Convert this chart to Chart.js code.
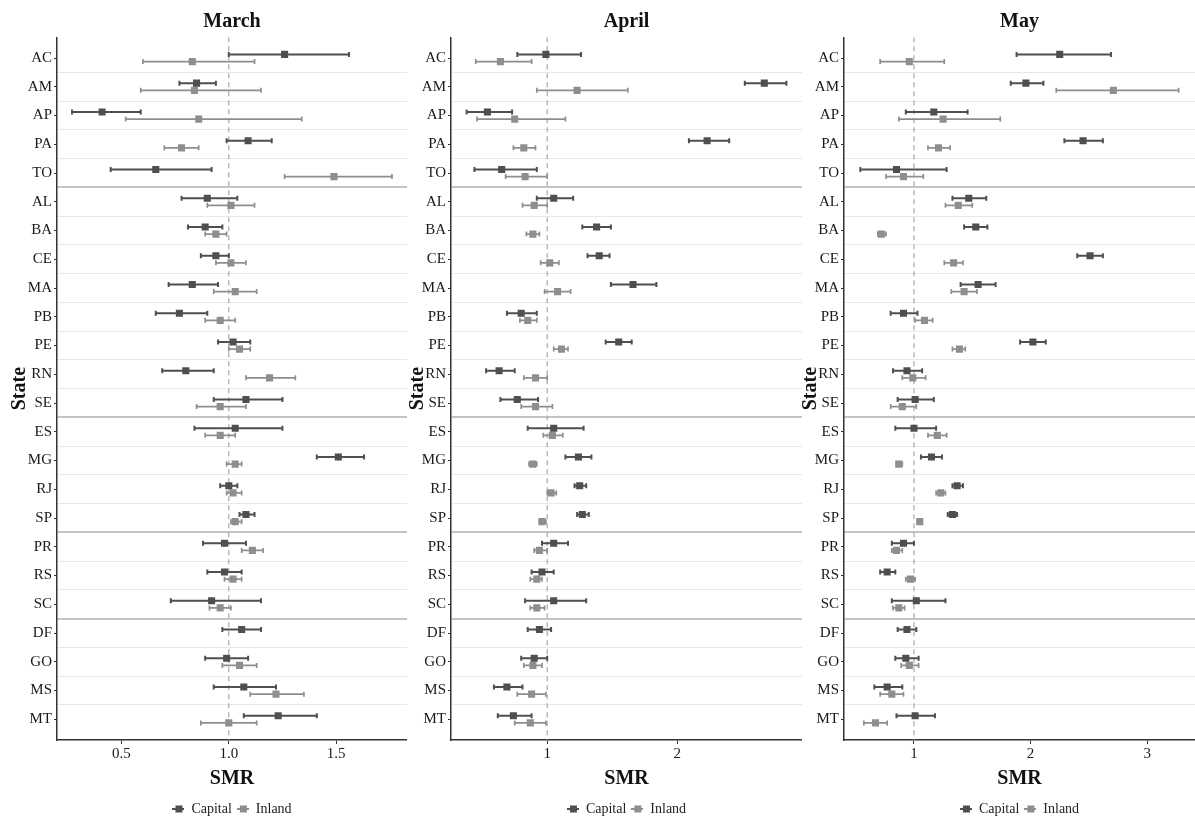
<!DOCTYPE html>
<html>
<head>
<meta charset="utf-8">
<script src="https://cdn.jsdelivr.net/npm/chart.js"></script>
<style>
  html, body { margin: 0; padding: 0; background: #fff; }
  #wrap { position: relative; width: 1195px; height: 819px; }
  .panel { position: absolute; top: 0; height: 819px; }
</style>
</head>
<body>
<div id="wrap">
  <div class="panel" style="left:0;width:407px"><canvas id="march"></canvas></div>
  <div class="panel" style="left:407px;width:395px"><canvas id="april"></canvas></div>
  <div class="panel" style="left:802px;width:393px"><canvas id="may"></canvas></div>
</div>
<script>
// states, top to bottom, grouped by region
const states = ['AC','AM','AP','PA','TO','AL','BA','CE','MA','PB','PE','RN','SE','ES','MG','RJ','SP','PR','RS','SC','DF','GO','MS','MT'];
const groupBreaks = [4.5, 12.5, 16.5, 19.5];

// March
const marchCapital   = [1.26,0.85,0.41,1.09,0.66,0.90,0.89,0.94,0.83,0.77,1.02,0.80,1.08,1.03,1.51,1.00,1.08,0.98,0.98,0.92,1.06,0.99,1.07,1.23];
const marchCapitalLo = [1.00,0.77,0.27,0.99,0.45,0.78,0.81,0.87,0.72,0.66,0.95,0.69,0.93,0.84,1.41,0.96,1.05,0.88,0.90,0.73,0.97,0.89,0.93,1.07];
const marchCapitalHi = [1.56,0.94,0.59,1.20,0.92,1.04,0.97,1.00,0.95,0.90,1.10,0.93,1.25,1.25,1.63,1.04,1.12,1.08,1.06,1.15,1.15,1.09,1.22,1.41];
const marchInland    = [0.83,0.84,0.86,0.78,1.49,1.01,0.94,1.01,1.03,0.96,1.05,1.19,0.96,0.96,1.03,1.02,1.03,1.11,1.02,0.96,null,1.05,1.22,1.00];
const marchInlandLo  = [0.60,0.59,0.52,0.70,1.26,0.90,0.89,0.94,0.93,0.89,1.00,1.08,0.85,0.89,0.99,0.99,1.01,1.06,0.98,0.91,null,0.97,1.10,0.87];
const marchInlandHi  = [1.12,1.15,1.34,0.86,1.76,1.12,0.99,1.08,1.13,1.03,1.10,1.31,1.08,1.03,1.06,1.06,1.06,1.16,1.06,1.01,null,1.13,1.35,1.13];

// April
const aprilCapital   = [0.99,2.67,0.54,2.23,0.65,1.05,1.38,1.40,1.66,0.80,1.55,0.63,0.77,1.05,1.24,1.25,1.27,1.05,0.96,1.05,0.94,0.90,0.69,0.74];
const aprilCapitalLo = [0.77,2.52,0.38,2.09,0.44,0.92,1.27,1.31,1.49,0.69,1.45,0.53,0.64,0.85,1.14,1.21,1.23,0.96,0.88,0.83,0.85,0.80,0.59,0.62];
const aprilCapitalHi = [1.26,2.84,0.73,2.40,0.92,1.20,1.49,1.48,1.84,0.92,1.65,0.75,0.93,1.28,1.34,1.30,1.32,1.16,1.05,1.30,1.03,1.00,0.81,0.88];
const aprilInland    = [0.64,1.23,0.75,0.82,0.83,0.90,0.89,1.02,1.08,0.85,1.11,0.91,0.91,1.04,0.89,1.03,0.96,0.94,0.92,0.92,null,0.89,0.88,0.87];
const aprilInlandLo  = [0.45,0.92,0.46,0.74,0.68,0.81,0.84,0.95,0.98,0.79,1.05,0.82,0.80,0.97,0.86,1.00,0.94,0.90,0.87,0.87,null,0.82,0.77,0.75];
const aprilInlandHi  = [0.88,1.62,1.14,0.91,1.00,1.00,0.94,1.09,1.18,0.92,1.16,1.00,1.04,1.12,0.92,1.07,0.99,1.00,0.96,0.98,null,0.96,0.99,0.99];

// May
const mayCapital   = [2.25,1.96,1.17,2.45,0.85,1.47,1.53,2.51,1.55,0.91,2.02,0.94,1.01,1.00,1.15,1.37,1.33,0.91,0.77,1.02,0.94,0.93,0.77,1.01];
const mayCapitalLo = [1.88,1.83,0.93,2.29,0.54,1.33,1.43,2.40,1.40,0.80,1.91,0.82,0.86,0.84,1.06,1.33,1.29,0.81,0.71,0.81,0.86,0.84,0.66,0.85];
const mayCapitalHi = [2.69,2.11,1.46,2.62,1.28,1.62,1.63,2.62,1.70,1.03,2.13,1.07,1.17,1.19,1.24,1.42,1.37,1.00,0.84,1.27,1.02,1.04,0.90,1.18];
const mayInland    = [0.96,2.71,1.25,1.21,0.91,1.38,0.72,1.34,1.43,1.09,1.39,0.99,0.90,1.20,0.87,1.23,1.05,0.85,0.97,0.87,null,0.96,0.81,0.67];
const mayInlandLo  = [0.71,2.22,0.87,1.12,0.76,1.27,0.69,1.26,1.32,1.01,1.33,0.90,0.80,1.12,0.85,1.19,1.03,0.81,0.93,0.82,null,0.89,0.71,0.57];
const mayInlandHi  = [1.26,3.27,1.74,1.31,1.08,1.50,0.76,1.42,1.54,1.16,1.44,1.10,1.02,1.28,0.90,1.27,1.07,0.90,1.01,0.92,null,1.04,0.91,0.77];

// x axis ticks and ranges
const marchTicks = [0.5, 1.0, 1.5];
const aprilTicks = [1, 2];
const mayTicks = [1, 2, 3];
const marchRange = [0.2, 1.83];
const aprilRange = [0.26, 2.96];
const mayRange = [0.40, 3.41];

const Y_MIN = -0.72, Y_MAX = 23.72;
const DODGE = 0.125;
const CAPITAL_COLOR = '#4f4f4f';
const INLAND_COLOR = '#8e8e8e';
const CAP = 2.5;

Chart.defaults.font.family = "'Liberation Serif', 'Times New Roman', serif";
Chart.defaults.color = '#1a1a1a';

// little "line + square" legend keys
function legendIcon(color) {
  const c = document.createElement('canvas');
  c.width = 12; c.height = 8;
  const g = c.getContext('2d');
  g.fillStyle = color;
  g.fillRect(0, 3, 12, 2);
  g.fillRect(3, 0.5, 7, 7);
  return c;
}
const icons = [legendIcon(CAPITAL_COLOR), legendIcon(INLAND_COLOR)];

function points(values, lo, hi, shift) {
  const out = [];
  values.forEach((v, i) => {
    if (v == null) return;
    out.push({ x: v, y: i + shift, lo: lo[i], hi: hi[i] });
  });
  return out;
}

// error bars drawn through the chart's own scales, just before each dataset's points
const errorBars = {
  id: 'errorBars',
  beforeDatasetDraw(chart, args) {
    const ds = chart.data.datasets[args.index];
    if (!ds.errorWidth) return;
    const { ctx, scales: { x, y } } = chart;
    ctx.save();
    ctx.strokeStyle = ds.borderColor;
    ctx.lineWidth = ds.errorWidth;
    ds.data.forEach(p => {
      const py = y.getPixelForValue(p.y);
      const xl = x.getPixelForValue(p.lo);
      const xh = x.getPixelForValue(p.hi);
      ctx.beginPath();
      ctx.moveTo(xl, py); ctx.lineTo(xh, py);
      ctx.moveTo(xl, py - CAP); ctx.lineTo(xl, py + CAP);
      ctx.moveTo(xh, py - CAP); ctx.lineTo(xh, py + CAP);
      ctx.stroke();
    });
    ctx.restore();
  }
};

const isBreak = v => groupBreaks.some(b => Math.abs(b - v) < 1e-6);

function makePanel(id, title, cap, capLo, capHi, inl, inlLo, inlHi, ticks, range, digits, lay) {
  new Chart(document.getElementById(id), {
    type: 'scatter',
    data: {
      datasets: [
        {
          label: 'Capital',
          data: points(cap, capLo, capHi, -DODGE),
          backgroundColor: CAPITAL_COLOR,
          borderColor: CAPITAL_COLOR,
          errorWidth: 2,
          pointStyle: 'rect',
          pointRadius: 5,
          pointBorderWidth: 0
        },
        {
          label: 'Inland',
          data: points(inl, inlLo, inlHi, DODGE),
          backgroundColor: INLAND_COLOR,
          borderColor: INLAND_COLOR,
          errorWidth: 1.7,
          pointStyle: 'rect',
          pointRadius: 5,
          pointBorderWidth: 0
        },
        {
          label: 'ref',
          data: [{ x: 1, y: Y_MIN }, { x: 1, y: Y_MAX }],
          showLine: true,
          borderColor: '#a8a8a8',
          borderWidth: 1.2,
          borderDash: [5, 4],
          pointRadius: 0,
          order: 10
        }
      ]
    },
    options: {
      responsive: true,
      maintainAspectRatio: false,
      animation: false,
      devicePixelRatio: 1,
      events: [],
      layout: { autoPadding: false, padding: { left: lay.padLeft, right: 0, top: 0, bottom: -7 } },
      plugins: {
        tooltip: { enabled: false },
        title: {
          display: true,
          text: title,
          fullSize: false,
          color: '#111',
          font: { size: 20, weight: 'bold' },
          padding: { top: 10, bottom: 3.3 }
        },
        legend: {
          position: 'bottom',
          fullSize: false,
          labels: {
            usePointStyle: true,
            boxWidth: 12,
            padding: 5,
            color: '#222',
            font: { size: 14 },
            filter: item => item.datasetIndex < 2,
            generateLabels: chart => Chart.defaults.plugins.legend.labels.generateLabels(chart)
              .map(l => Object.assign(l, { pointStyle: icons[l.datasetIndex] || l.pointStyle }))
          }
        }
      },
      scales: {
        x: {
          type: 'linear',
          bounds: 'data',
          min: range[0],
          max: range[1],
          afterBuildTicks: s => { s.ticks = ticks.map(v => ({ value: v })); },
          afterFit: s => { s.height = 57; },
          ticks: {
            padding: 1,
            color: '#1a1a1a',
            font: { size: 15 },
            callback: v => Number(v).toFixed(digits)
          },
          grid: { drawOnChartArea: false, drawTicks: true, tickLength: 4, tickColor: '#333', tickWidth: 1 },
          border: { display: true, color: '#333', width: 1.5 },
          title: {
            display: true,
            text: 'SMR',
            color: '#111',
            font: { size: 20, weight: 'bold' },
            padding: { top: 0, bottom: 6 }
          }
        },
        y: {
          type: 'linear',
          bounds: 'data',
          reverse: true,
          min: Y_MIN,
          max: Y_MAX,
          afterBuildTicks: s => {
            const t = [];
            states.forEach((_, i) => {
              t.push({ value: i });
              if (i < states.length - 1) t.push({ value: i + 0.5 });
            });
            s.ticks = t;
          },
          afterFit: s => { s.width = lay.axisWidth; },
          ticks: {
            autoSkip: false,
            padding: 2,
            color: '#1a1a1a',
            font: { size: 15 },
            callback: v => Number.isInteger(v) ? states[v] : ''
          },
          grid: {
            drawOnChartArea: true,
            drawTicks: true,
            tickLength: 3,
            color: c => {
              const v = c.tick ? c.tick.value : 0;
              if (Number.isInteger(v)) return 'rgba(0,0,0,0)';
              return isBreak(v) ? '#c4c4c4' : '#e8e8e8';
            },
            lineWidth: c => (c.tick && isBreak(c.tick.value)) ? 2 : 1,
            tickColor: c => (c.tick && Number.isInteger(c.tick.value)) ? '#333' : 'rgba(0,0,0,0)',
            tickWidth: 1
          },
          border: { display: true, color: '#333', width: 1.5 },
          title: {
            display: true,
            text: 'State',
            color: '#111',
            font: { size: 20, weight: 'bold' },
            padding: { top: lay.titleShift, bottom: 0 }
          }
        }
      }
    },
    plugins: [errorBars]
  });
}

makePanel('march', 'March', marchCapital, marchCapitalLo, marchCapitalHi, marchInland, marchInlandLo, marchInlandHi,
  marchTicks, marchRange, 1, { padLeft: 7, axisWidth: 50, titleShift: 1 });
makePanel('april', 'April', aprilCapital, aprilCapitalLo, aprilCapitalHi, aprilInland, aprilInlandLo, aprilInlandHi,
  aprilTicks, aprilRange, 0, { padLeft: 0, axisWidth: 44, titleShift: -1 });
makePanel('may', 'May', mayCapital, mayCapitalLo, mayCapitalHi, mayInland, mayInlandLo, mayInlandHi,
  mayTicks, mayRange, 0, { padLeft: 0, axisWidth: 42, titleShift: -3 });
</script>
</body>
</html>
